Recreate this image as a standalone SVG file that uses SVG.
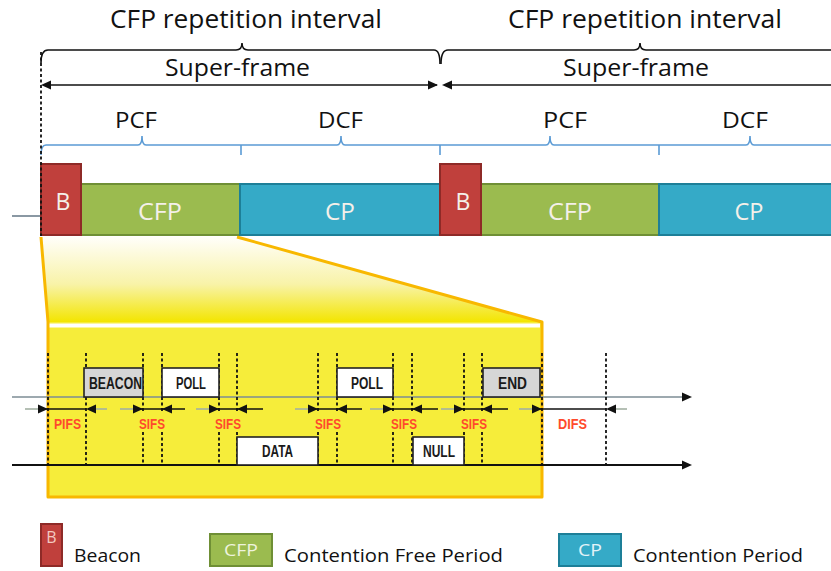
<svg xmlns="http://www.w3.org/2000/svg" width="831" height="571" viewBox="0 0 831 571">
<style>
.t{font-family:"Open Sans","Noto Sans","Liberation Sans",sans-serif;fill:#111}
.bt{font-family:"Open Sans","Noto Sans","Liberation Sans",sans-serif;fill:#f4f0ea}
.lb{font-family:"Liberation Sans",Arial,sans-serif;font-weight:bold;fill:#1a1a1a;font-size:16px}
.rl{font-family:"Liberation Sans",Arial,sans-serif;font-weight:bold;fill:#ff4a2c;font-size:15.5px}
.brk{fill:none;stroke:#111;stroke-width:1.6}
.bbr{fill:none;stroke:#5b9bd5;stroke-width:1.6}
.red{fill:#c0403c;stroke:#8e2a27;stroke-width:2}
.grn{fill:#9bbb4f;stroke:#6f8f35;stroke-width:2}
.cyn{fill:#35aac7;stroke:#1d7f98;stroke-width:2}
.dv{stroke:#111;stroke-width:1.8;stroke-dasharray:3 2.5}
.blk{stroke:#111;stroke-width:1.6}
.gry{stroke:#a3b0a3;stroke-width:1.6}
.box{fill:#fff;stroke:#222;stroke-width:1.6}
.gbox{fill:#d6d6d6;stroke:#222;stroke-width:1.6}
</style>
<defs>
<polygon id="aR" points="-10,-4.5 0,0 -10,4.5" fill="#111"/>
<polygon id="aL" points="10,-4.5 0,0 10,4.5" fill="#111"/>
<linearGradient id="yg" gradientUnits="userSpaceOnUse" x1="0" y1="238" x2="0" y2="322">
<stop offset="0" stop-color="#fffef8"/>
<stop offset="0.55" stop-color="#f8f3a8"/>
<stop offset="1" stop-color="#f3e500"/>
</linearGradient>
</defs>

<g id="titles">
<path class="brk" d="M41,63 Q41,50 48,50 L236,50 Q242,50 242,43 Q242,50 248,50 L434,50 Q440,50 440,64"/>
<path class="brk" d="M441,64 Q441,50 448,50 L634,50 Q640,50 640,43 Q640,50 646,50 L831,50"/>
<text class="t" x="110" y="28" font-size="25" textLength="272" lengthAdjust="spacingAndGlyphs">CFP repetition interval</text>
<text class="t" x="508" y="28" font-size="25" textLength="274" lengthAdjust="spacingAndGlyphs">CFP repetition interval</text>
<line class="blk" x1="44" y1="85" x2="437" y2="85"/>
<use href="#aL" transform="translate(41,85)"/>
<use href="#aR" transform="translate(438,85)"/>
<line class="blk" x1="445" y1="85" x2="831" y2="85"/>
<use href="#aL" transform="translate(442,85)"/>
<text class="t" x="165" y="76" font-size="24" textLength="145" lengthAdjust="spacingAndGlyphs">Super-frame</text>
<text class="t" x="563" y="76" font-size="24" textLength="146" lengthAdjust="spacingAndGlyphs">Super-frame</text>
<path class="bbr" d="M41,155 Q41,145 46,145 L138,145 Q142,145 142,136 Q142,145 146,145 L241,145 L337,145 Q341,145 341,136 Q341,145 345,145 L440,145 L546,145 Q550,145 550,136 Q550,145 554,145 L659,145 L746,145 Q750,145 750,136 Q750,145 754,145 L831,145"/>
<path class="bbr" d="M241,145 L241,155 M440,145 L440,155 M659,145 L659,155"/>
<text class="t" x="115" y="128" font-size="21" textLength="42" lengthAdjust="spacingAndGlyphs">PCF</text>
<text class="t" x="318" y="128" font-size="21" textLength="45" lengthAdjust="spacingAndGlyphs">DCF</text>
<text class="t" x="543" y="128" font-size="21" textLength="44" lengthAdjust="spacingAndGlyphs">PCF</text>
<text class="t" x="722" y="128" font-size="21" textLength="46" lengthAdjust="spacingAndGlyphs">DCF</text>
</g>

<g id="zoom">
<polygon points="41,237 237,237 542,322 48,322" fill="url(#yg)"/>
<rect x="48" y="322" width="494" height="175" fill="#f6ed3a"/>
<line x1="49" y1="325.5" x2="540" y2="325.5" stroke="#fff" stroke-width="4"/>
<path d="M41,237 L48,322 L48,497 L542,497 L542,322 L237,237" fill="none" stroke="#f8b800" stroke-width="3" stroke-linejoin="round"/>
</g>

<g id="bar">
<line x1="12" y1="216" x2="41" y2="216" stroke="#6d7f8c" stroke-width="1.6"/>
<rect class="grn" x="81" y="184" width="159" height="51"/>
<rect class="cyn" x="240" y="184" width="200" height="51"/>
<rect class="red" x="41" y="164" width="40" height="71"/>
<rect class="grn" x="481" y="184" width="178" height="51"/>
<rect class="cyn" x="659" y="184" width="174" height="51"/>
<rect class="red" x="440" y="164" width="41" height="71"/>
<text class="bt" x="63" y="210" font-size="23" text-anchor="middle">B</text>
<text class="bt" x="160" y="220" font-size="23" text-anchor="middle" textLength="44" lengthAdjust="spacingAndGlyphs">CFP</text>
<text class="bt" x="340" y="220" font-size="23" text-anchor="middle" textLength="30" lengthAdjust="spacingAndGlyphs">CP</text>
<text class="bt" x="463" y="210" font-size="23" text-anchor="middle">B</text>
<text class="bt" x="570" y="220" font-size="23" text-anchor="middle" textLength="44" lengthAdjust="spacingAndGlyphs">CFP</text>
<text class="bt" x="749" y="220" font-size="23" text-anchor="middle" textLength="29" lengthAdjust="spacingAndGlyphs">CP</text>
<line class="dv" x1="41" y1="52" x2="41" y2="236" stroke-dasharray="4 2.5" stroke-width="1.6"/>
</g>

<g id="timing">
<line x1="12" y1="397" x2="682" y2="397" stroke="#7d8c95" stroke-width="1.6"/>
<use href="#aR" transform="translate(692,397)"/>
<line x1="12" y1="465" x2="682" y2="465" stroke="#111" stroke-width="2"/>
<use href="#aR" transform="translate(692,465)"/>

<line class="dv" x1="48" y1="353" x2="48" y2="465" stroke-width="2.2"/>
<line class="dv" x1="86" y1="353" x2="86" y2="465"/>
<path class="dv" d="M143,353 V411 M143,432 V465 M162,353 V411 M162,432 V465 M219,353 V411 M219,432 V465 M237,353 V411 M237,432 V465 M318,353 V411 M318,432 V465 M337,353 V411 M337,432 V465 M393,353 V411 M393,432 V465 M412,353 V411 M412,432 V465 M464,353 V411 M464,432 V465 M482,353 V411 M482,432 V465"/>
<line class="dv" x1="542" y1="353" x2="542" y2="465" stroke-width="2.2"/>
<line class="dv" x1="606" y1="353" x2="606" y2="465"/>

<g id="n-beacon"><rect class="gbox" x="84" y="368" width="59" height="29"/><text class="lb" x="89" y="389" textLength="53" lengthAdjust="spacingAndGlyphs">BEACON</text></g>
<g id="n-poll1"><rect class="box" x="162" y="368" width="57" height="29"/><text class="lb" x="176" y="389" textLength="30" lengthAdjust="spacingAndGlyphs">POLL</text></g>
<g id="n-poll2"><rect class="box" x="337" y="368" width="56" height="29"/><text class="lb" x="351" y="389" textLength="32" lengthAdjust="spacingAndGlyphs">POLL</text></g>
<g id="n-end"><rect class="gbox" x="483" y="368" width="57" height="29"/><text class="lb" x="498" y="389" textLength="29" lengthAdjust="spacingAndGlyphs">END</text></g>
<g id="n-data"><rect class="box" x="237" y="437" width="81" height="28"/><text class="lb" x="262" y="457" textLength="31" lengthAdjust="spacingAndGlyphs">DATA</text></g>
<g id="n-null"><rect class="box" x="413" y="437" width="51" height="28"/><text class="lb" x="423" y="457" textLength="32" lengthAdjust="spacingAndGlyphs">NULL</text></g>

<g id="connectors">
<line class="gry" x1="25" y1="409" x2="40" y2="409"/><line class="blk" x1="40" y1="409" x2="86" y2="409"/><line class="gry" x1="94" y1="409" x2="107" y2="409"/>
<use href="#aR" transform="translate(48,409)"/><use href="#aL" transform="translate(86,409)"/>
<line class="gry" x1="120" y1="409" x2="135" y2="409"/><line class="blk" x1="135" y1="409" x2="185" y2="409"/>
<use href="#aR" transform="translate(143,409)"/><use href="#aL" transform="translate(162,409)"/>
<line class="gry" x1="196" y1="409" x2="211" y2="409"/><line class="blk" x1="211" y1="409" x2="263" y2="409"/>
<use href="#aR" transform="translate(219,409)"/><use href="#aL" transform="translate(237,409)"/>
<line class="gry" x1="295" y1="409" x2="310" y2="409"/><line class="blk" x1="310" y1="409" x2="362" y2="409"/>
<use href="#aR" transform="translate(318,409)"/><use href="#aL" transform="translate(337,409)"/>
<line class="gry" x1="370" y1="409" x2="385" y2="409"/><line class="blk" x1="385" y1="409" x2="438" y2="409"/>
<use href="#aR" transform="translate(393,409)"/><use href="#aL" transform="translate(412,409)"/>
<line class="gry" x1="441" y1="409" x2="456" y2="409"/><line class="blk" x1="456" y1="409" x2="508" y2="409"/>
<use href="#aR" transform="translate(464,409)"/><use href="#aL" transform="translate(482,409)"/>
<line class="gry" x1="519" y1="409" x2="534" y2="409"/><line class="blk" x1="534" y1="409" x2="606" y2="409"/><line class="gry" x1="614" y1="409" x2="627" y2="409"/>
<use href="#aR" transform="translate(542,409)"/><use href="#aL" transform="translate(606,409)"/>
</g>

<text class="rl" x="54" y="429" textLength="27" lengthAdjust="spacingAndGlyphs">PIFS</text>
<text class="rl" x="139" y="429" textLength="26" lengthAdjust="spacingAndGlyphs">SIFS</text>
<text class="rl" x="215" y="429" textLength="26" lengthAdjust="spacingAndGlyphs">SIFS</text>
<text class="rl" x="315" y="429" textLength="26" lengthAdjust="spacingAndGlyphs">SIFS</text>
<text class="rl" x="391" y="429" textLength="26" lengthAdjust="spacingAndGlyphs">SIFS</text>
<text class="rl" x="461" y="429" textLength="26" lengthAdjust="spacingAndGlyphs">SIFS</text>
<text class="rl" x="558" y="429" textLength="29" lengthAdjust="spacingAndGlyphs">DIFS</text>
</g>

<g id="legend">
<g id="lg-beacon">
<rect class="red" x="41" y="524" width="21" height="42"/>
<text x="51.5" y="543" font-size="16" text-anchor="middle" font-family="Open Sans,Noto Sans,sans-serif" fill="#f3c9c0">B</text>
<text class="t" x="74" y="562" font-size="19" textLength="67" lengthAdjust="spacingAndGlyphs">Beacon</text>
</g>
<g id="lg-cfp">
<rect class="grn" x="210" y="534" width="62" height="32"/>
<text x="241" y="556" font-size="17" text-anchor="middle" font-family="Open Sans,Noto Sans,sans-serif" fill="#eef3dc" textLength="34" lengthAdjust="spacingAndGlyphs">CFP</text>
<text class="t" x="284" y="562" font-size="19" textLength="219" lengthAdjust="spacingAndGlyphs">Contention Free Period</text>
</g>
<g id="lg-cp">
<rect class="cyn" x="559" y="534" width="62" height="32"/>
<text x="590" y="556" font-size="17" text-anchor="middle" font-family="Open Sans,Noto Sans,sans-serif" fill="#e3f3f8" textLength="24" lengthAdjust="spacingAndGlyphs">CP</text>
<text class="t" x="633" y="562" font-size="19" textLength="170" lengthAdjust="spacingAndGlyphs">Contention Period</text>
</g>
</g>
</svg>
